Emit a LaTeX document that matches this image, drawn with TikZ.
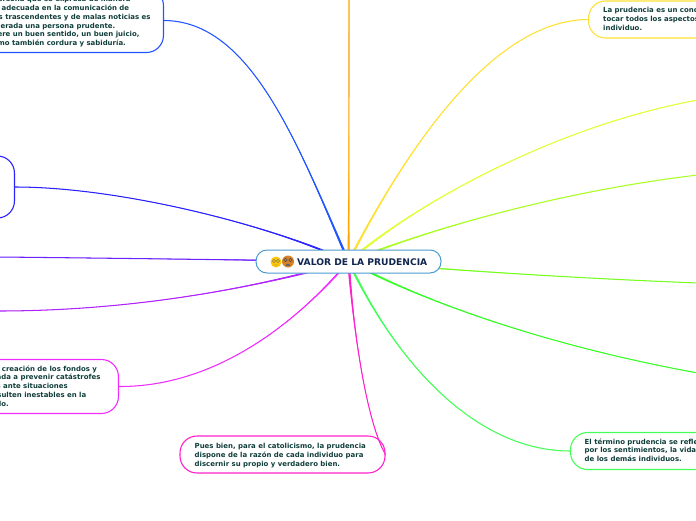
\documentclass[tikz,border=0pt]{standalone}
\usepackage{fontspec}
\setmainfont{DejaVu Sans}
\usetikzlibrary{calc,backgrounds}
\definecolor{txt}{HTML}{0F3D3A}
\definecolor{rootc}{HTML}{10254F}
\definecolor{rootb}{HTML}{4A9BD0}
\definecolor{cblueA}{HTML}{2255FF}
\definecolor{cblueB}{HTML}{2A22FF}
\definecolor{cviol}{HTML}{6A22FF}
\definecolor{cpurp}{HTML}{B022FF}
\definecolor{cmag}{HTML}{F02CFF}
\definecolor{cpink}{HTML}{FF22CC}
\definecolor{cgrA}{HTML}{44FF55}
\definecolor{cgrB}{HTML}{33FF22}
\definecolor{cgrC}{HTML}{77FF22}
\definecolor{cgrD}{HTML}{AAFF22}
\definecolor{cyelA}{HTML}{E2FF33}
\definecolor{cyelB}{HTML}{FFE033}
\definecolor{corg}{HTML}{FFA500}
\tikzset{
 topic/.style={draw=#1,line width=1.1pt,rounded corners=17pt,inner sep=0pt},
 blurb/.style={anchor=north west,inner sep=0pt,align=left,text=txt,font=\fontsize{6.95}{8.7}\selectfont\bfseries},
 rootbox/.style={draw=rootb,line width=1pt,rounded corners=11pt,fill=white,minimum width=185pt,minimum height=23pt,inner sep=0pt},
 thin link/.style={line width=1.05pt}
}
\newcommand{\conn}[6]{% colour, from, c1, c2, to, taper offset
 \fill[#1] ($(#2)+#6$) .. controls #3 and #4 .. (#5) .. controls #4 and #3 .. ($(#2)-#6$) -- cycle;
 \draw[#1,thin link] (#2) .. controls #3 and #4 .. (#5);}
\begin{document}
\begin{tikzpicture}[x=1pt,y=-1pt]
\useasboundingbox (0,0) rectangle (696,520);
\clip (0,0) rectangle (696,520);
% boxes
\node[rootbox] (root) at (348.5,261.5) {};
\node[topic=cblueA,minimum width=204pt,minimum height=64pt,anchor=east] (b1) at (164,20.5) {};
\node[topic=cblueB,minimum width=60pt,minimum height=62pt,anchor=east] (b2) at (15,187) {};
\node[topic=cmag,minimum width=160pt,minimum height=54pt,anchor=east] (b5) at (119,386.5) {};
\node[topic=cpink,minimum width=205pt,minimum height=37pt] (b6) at (282.5,454.5) {};
\node[topic=cgrA,minimum width=200pt,minimum height=37pt,anchor=west] (b7) at (570,451) {};
\node[topic=cyelB,minimum width=200pt,minimum height=37pt,anchor=west] (b12) at (588,19.5) {};
% free ends
\coordinate (e3) at (-2,257);
\coordinate (e4) at (-2,311);
\coordinate (e8) at (698,373);
\coordinate (e9) at (698,283);
\coordinate (e10) at (698,175);
\coordinate (e11) at (698,100);
\coordinate (e13) at (349,-2);
% connectors behind the boxes
\begin{scope}[on background layer]
\conn{cblueA}{root.center}{(296,140)}{(250,21)}{b1.east}{(1.4,0)}
\conn{cblueB}{root.center}{(270,225)}{(120,187)}{b2.east}{(0,1.4)}
\conn{cviol}{root.center}{(250,260)}{(100,258)}{e3}{(0,1.4)}
\conn{cpurp}{root.center}{(230,295)}{(110,311)}{e4}{(0,1.4)}
\conn{cmag}{root.center}{(290,330)}{(210,387)}{b5.east}{(1.4,0)}
\conn{cpink}{root.center}{(354,340)}{(368,425)}{b6.east}{(1.4,0)}
\conn{cgrA}{root.center}{(400,370)}{(480,451)}{b7.west}{(1.4,0)}
\conn{cgrB}{root.center}{(440,310)}{(570,350)}{e8}{(0,1.4)}
\conn{cgrC}{root.center}{(450,270)}{(570,278)}{e9}{(0,1.4)}
\conn{cgrD}{root.center}{(440,225)}{(570,190)}{e10}{(0,1.4)}
\conn{cyelA}{root.center}{(420,200)}{(560,125)}{e11}{(1,1)}
\conn{cyelB}{root.center}{(416,130)}{(500,20)}{b12.west}{(1.4,0)}
\conn{corg}{root.center}{(349,170)}{(349,80)}{e13}{(1.2,0)}
\end{scope}
% texts
\node[blurb] (t1) at (-25,-3.5) {Una persona que se expresa de manera\\sutil y adecuada en la comunicación de\\hechos trascendentes y de malas noticias es\\considerada una persona prudente.\\Requiere un buen sentido, un buen juicio,\\así como también cordura y sabiduría.};
\node[blurb] (t5) at (-28,365.5) {para la creación de los fondos y\\destinada a prevenir catástrofes\\futuras ante situaciones\\que resulten inestables en la\\mercado.};
\node[blurb] (t6) at (194.5,443.2) {Pues bien, para el catolicismo, la prudencia\\dispone de la razón de cada individuo para\\discernir su propio y verdadero bien.};
\node[blurb] (t7) at (584.5,438.5) {El término prudencia se refleja\\por los sentimientos, la vida y\\de los demás individuos.};
\node[blurb] (t12) at (603,7.5) {La prudencia es un concepto\\tocar todos los aspectos del\\individuo.};
% root label and faces
\node[anchor=west,inner sep=0pt,text=rootc,font=\fontsize{9.15}{11}\selectfont\bfseries] (rt) at (297,262) {VALOR DE LA PRUDENCIA};
\node[circle,fill=yellow!60!orange,minimum size=11pt,inner sep=0pt] (f1) at (276,262) {};
\node[circle,fill=brown!65!orange,minimum size=12pt,inner sep=0pt] (f2) at (288,261.5) {};
\draw[black!60,line width=.4pt] (274,261) circle (1.6) (278,261) circle (1.6) (274,265) -- (278,265);
\draw[black!70,line width=.5pt] (285.5,260) circle (1.7) (290.5,260) circle (1.7);
\fill[black!60] (288,265) ellipse (2.2 and 1.2);
\end{tikzpicture}
\end{document}
